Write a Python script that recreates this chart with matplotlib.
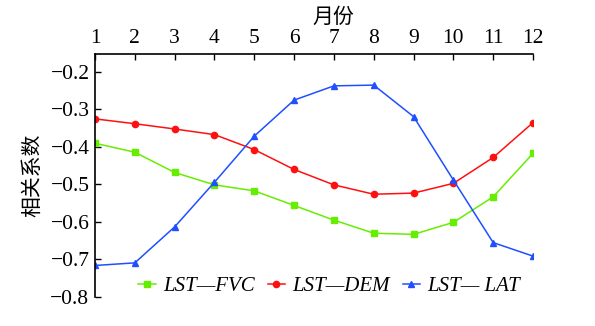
import numpy as np
import matplotlib.pyplot as plt

plt.rcParams['font.family'] = ['Liberation Serif', 'Noto Sans CJK SC']
plt.rcParams['mathtext.fontset'] = 'stix'

months = np.arange(1, 13)
fvc = [-0.390, -0.414, -0.468, -0.501, -0.517, -0.556, -0.595, -0.630, -0.633, -0.601, -0.533, -0.417]
dem = [-0.325, -0.338, -0.352, -0.367, -0.407, -0.460, -0.501, -0.526, -0.523, -0.497, -0.428, -0.335]
lat = [-0.716, -0.709, -0.613, -0.494, -0.371, -0.275, -0.237, -0.235, -0.319, -0.488, -0.655, -0.691]
labels = ['LST—FVC', 'LST—DEM', 'LST— LAT']

fig = plt.figure(figsize=(5.95, 3.26), dpi=100)
ax = fig.add_axes([0.1597, 0.089, 0.7361, 0.7454])

ax.plot(months, fvc, '-s', color='#66EE00', lw=1.1, ms=4, label=labels[0])
ax.plot(months, dem, '-o', color='#FF1010', lw=1.1, ms=4.5, label=labels[1])
ax.plot(months, lat, '-^', color='#1F4FFF', lw=1.1, ms=4.5, label=labels[2])

ax.set_xlim(1, 12)
ax.set_ylim(-0.8, -0.152)
ax.set_xticks(months)
yt = np.round(np.arange(-0.8, -0.15, 0.1), 1)
ax.set_yticks(yt)
ax.set_yticklabels(['−%.1f' % abs(v) for v in yt])

ax.xaxis.tick_top()
ax.xaxis.set_label_position('top')
ax.set_xlabel('月份', fontsize=15, family=['Noto Sans CJK SC'])
ax.xaxis.set_label_coords(0.543, 1.13)
ax.set_ylabel('相关系数', fontsize=15, family=['Noto Sans CJK SC'])
ax.yaxis.set_label_coords(-0.119, 0.5)

for s in ['right', 'bottom']:
    ax.spines[s].set_visible(False)
for s in ['left', 'top']:
    ax.spines[s].set_linewidth(1.2)
ax.tick_params(direction='in', length=4, width=1, labelsize=15.5, pad=4)

leg = ax.legend(loc='lower center', bbox_to_anchor=(0.535, -0.03), ncol=3, frameon=False,
                prop={'style': 'italic', 'size': 15}, handlelength=0.85,
                handletextpad=0.35, columnspacing=0.6, borderaxespad=0)

fig.savefig('out.png', dpi=100)
